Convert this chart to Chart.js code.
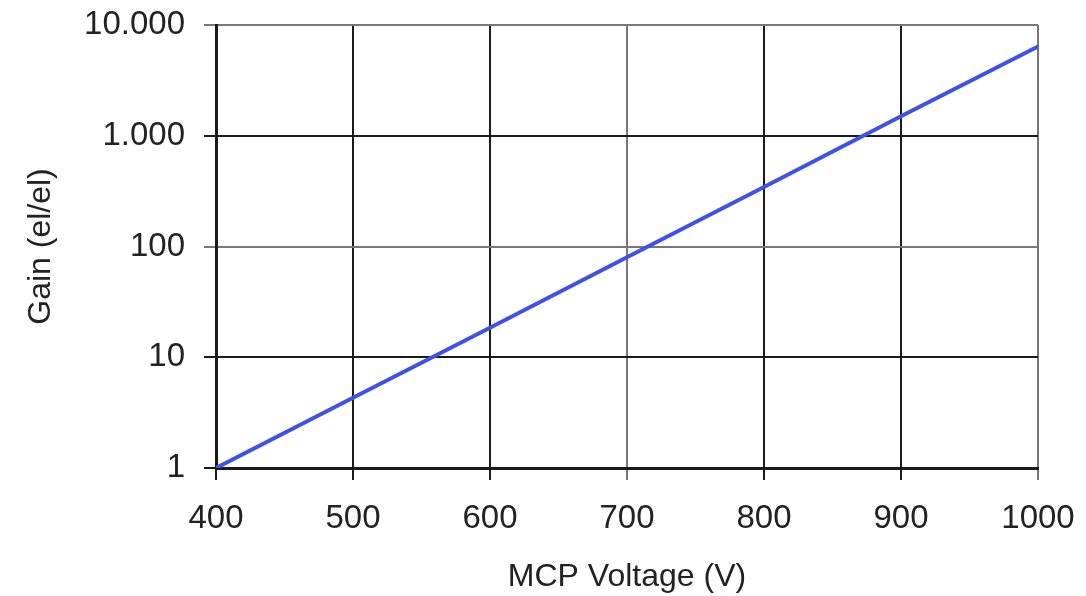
<!DOCTYPE html>
<html>
<head>
<meta charset="utf-8">
<script src="https://cdn.jsdelivr.net/npm/chart.js@4"></script>
<style>
  html, body { margin: 0; padding: 0; background: #fff; }
  canvas { display: block; }
</style>
</head>
<body>
<canvas id="gainChart" width="1086" height="596"></canvas>
<script>
// MCP voltage (V) and gain
const voltages = [400, 500, 600, 700, 800, 900, 1000];
const gains = [1, 4.3, 18.5, 80, 345, 1500, 6400];
const gainTicks = [1, 10, 100, 1000, 10000];

const fontFamily = '"Liberation Sans", Arial, sans-serif';

function fmtGain(v) {
    // dot as thousands separator, like the original
    return String(v).replace(/\B(?=(\d{3})+(?!\d))/g, '.');
}

// drop the extra room chart.js reserves for overhanging labels
function noOverhang(scale) {
    scale.paddingTop = 0;
    scale.paddingBottom = 0;
    scale.paddingLeft = 0;
    scale.paddingRight = 0;
}

const ctx = document.getElementById('gainChart').getContext('2d');
new Chart(ctx, {
    type: 'line',
    data: {
        datasets: [{
            data: voltages.map((v, i) => ({ x: v, y: gains[i] })),
            borderColor: '#3f52e4',
            borderWidth: 4,
            pointRadius: 0,
            tension: 0,
            fill: false
        }]
    },
    options: {
        responsive: false,
        animation: false,
        layout: { padding: { top: 25, right: 48, left: 0, bottom: 0 } },
        plugins: { legend: { display: false }, tooltip: { enabled: false } },
        scales: {
            x: {
                type: 'linear',
                min: 400,
                max: 1000,
                afterFit: (scale) => { scale.height = 128; noOverhang(scale); },
                ticks: {
                    stepSize: 100,
                    color: '#222',
                    padding: 19,
                    font: { family: fontFamily, size: 33 },
                    callback: (v) => String(v)
                },
                grid: {
                    tickLength: 12,
                    lineWidth: 2,
                    color: (c) => {
                        const v = c.tick && c.tick.value;
                        return (v === 700 || v === 1000) ? '#777' : '#1a1a1a';
                    }
                },
                border: { color: '#1a1a1a', width: 3 },
                title: {
                    display: true,
                    text: 'MCP Voltage (V)',
                    color: '#222',
                    padding: { top: 0, bottom: 0 },
                    font: { family: fontFamily, size: 32 }
                }
            },
            y: {
                type: 'logarithmic',
                min: 1,
                max: 10000,
                afterFit: (scale) => { scale.width = 216; noOverhang(scale); },
                afterBuildTicks: (scale) => {
                    scale.ticks = gainTicks.map(v => ({ value: v }));
                },
                ticks: {
                    color: '#222',
                    padding: 19,
                    font: { family: fontFamily, size: 33 },
                    callback: (v) => fmtGain(v)
                },
                grid: {
                    tickLength: 12,
                    lineWidth: 2,
                    color: (c) => {
                        const v = c.tick && c.tick.value;
                        return (v === 100 || v === 10000) ? '#777' : '#1a1a1a';
                    }
                },
                border: { color: '#1a1a1a', width: 3 },
                title: {
                    display: true,
                    text: 'Gain (el/el)',
                    color: '#222',
                    padding: { top: 22, bottom: 0 },
                    font: { family: fontFamily, size: 32 }
                }
            }
        }
    }
});
</script>
</body>
</html>
